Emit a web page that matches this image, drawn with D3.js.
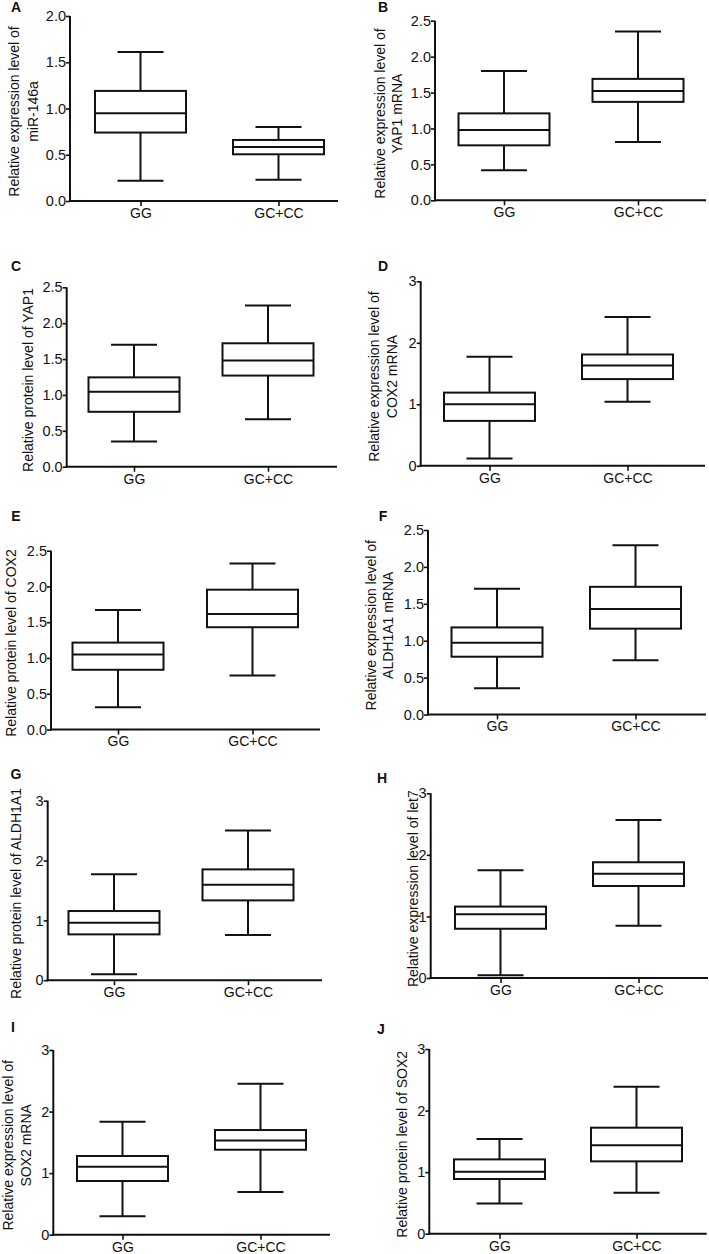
<!DOCTYPE html>
<html>
<head>
<meta charset="utf-8">
<script src="https://cdn.jsdelivr.net/npm/d3@7"></script>
<style>
  html, body { margin: 0; padding: 0; background: #fff; }
  svg { display: block; }
  text { font-family: "Liberation Sans", Arial, Helvetica, sans-serif; fill: #111; }
</style>
</head>
<body>
<svg id="chart" width="709" height="1254"></svg>
<script>
// ---------------- DATA ----------------
const panelLetters = ["A", "B", "C", "D", "E", "F", "G", "H", "I", "J"];
const categories = ["GG", "GC+CC"];
const yMaxValues = [2, 2.5, 2.5, 3, 2.5, 2.5, 3, 3, 3, 3];
const yTickSteps = [0.5, 0.5, 0.5, 1, 0.5, 0.5, 1, 1, 1, 1];
const yTitles = [
  ["Relative expression level of", "miR-146a"],
  ["Relative expression level of", "YAP1 mRNA"],
  ["Relative protein level of YAP1"],
  ["Relative expression level of", "COX2 mRNA"],
  ["Relative protein level of COX2"],
  ["Relative expression level of", "ALDH1A1 mRNA"],
  ["Relative protein level of ALDH1A1"],
  ["Relative expression level of let7"],
  ["Relative expression level of", "SOX2 mRNA"],
  ["Relative protein level of SOX2"]
];
// box stats: [min, Q1, median, Q3, max]
const ggStats = [
  [0.22, 0.74, 0.95, 1.19, 1.61],
  [0.42, 0.765, 0.98, 1.21, 1.80],
  [0.35, 0.765, 1.045, 1.245, 1.70],
  [0.12, 0.73, 1.00, 1.19, 1.775],
  [0.31, 0.835, 1.05, 1.215, 1.67],
  [0.355, 0.783, 0.973, 1.18, 1.705],
  [0.10, 0.766, 0.96, 1.156, 1.77],
  [0.045, 0.80, 1.035, 1.16, 1.75],
  [0.30, 0.872, 1.104, 1.278, 1.835],
  [0.49, 0.888, 1.007, 1.207, 1.538]
];
const gcStats = [
  [0.23, 0.505, 0.585, 0.66, 0.80],
  [0.81, 1.37, 1.52, 1.69, 2.35],
  [0.66, 1.27, 1.48, 1.72, 2.245],
  [1.04, 1.41, 1.63, 1.81, 2.42],
  [0.755, 1.43, 1.615, 1.955, 2.32],
  [0.735, 1.163, 1.43, 1.73, 2.295],
  [0.755, 1.334, 1.596, 1.852, 2.50],
  [0.85, 1.494, 1.695, 1.88, 2.565],
  [0.693, 1.38, 1.532, 1.70, 2.453],
  [0.666, 1.175, 1.435, 1.722, 2.388]
];

// ---------------- LAYOUT ----------------
const layout = [
  {ax0: 70,    ax1: 338,   yTop: 16,    y0: 201,    c0: 140.5, c1: 278.5, tb: [18.5, 38],   lx: 16,  ly: 7},
  {ax0: 435,   ax1: 706,   yTop: 20.7,  y0: 200.3,  c0: 504,   c1: 638,   tb: [384.7, 402.3], lx: 383, ly: 7},
  {ax0: 66.7,  ax1: 337,   yTop: 287.3, y0: 466.7,  c0: 134,   c1: 268,   tb: [33],         lx: 16,  ly: 266},
  {ax0: 420.7, ax1: 705,   yTop: 281.3, y0: 465.8,  c0: 489.5, c1: 627.5, tb: [379, 396.7], lx: 383, ly: 266},
  {ax0: 51,    ax1: 320,   yTop: 550.7, y0: 729.5,  c0: 118,   c1: 252.5, tb: [16],         lx: 16,  ly: 516},
  {ax0: 428,   ax1: 706,   yTop: 530,   y0: 714.5,  c0: 497,   c1: 635.5, tb: [376, 393],   lx: 383, ly: 516},
  {ax0: 47.7,  ax1: 322,   yTop: 800.7, y0: 980.2,  c0: 114,   c1: 248,   tb: [20.7],       lx: 16,  ly: 774},
  {ax0: 430.7, ax1: 708,   yTop: 793.3, y0: 978,    c0: 500.5, c1: 638.5, tb: [418],        lx: 382, ly: 778},
  {ax0: 53.3,  ax1: 330,   yTop: 1050,  y0: 1234.7, c0: 122.5, c1: 260.5, tb: [12.7, 30.7], lx: 13,  ly: 1027},
  {ax0: 429.3, ax1: 706.7, yTop: 1049,  y0: 1233.7, c0: 499.5, c1: 636.5, tb: [406.7],      lx: 381, ly: 1029}
];
const BOX_HALF = 45.5, CAP_HALF = 23, SW = 2;

const svg = d3.select("#chart");

panelLetters.forEach((letter, i) => {
  const L = layout[i];
  const g = svg.append("g");
  const y = d3.scaleLinear().domain([0, yMaxValues[i]]).range([L.y0, L.yTop]);
  const x = d3.scalePoint().domain(categories).range([L.c0, L.c1]);
  const ticks = d3.range(0, yMaxValues[i] + 1e-9, yTickSteps[i]);
  const fmt = yTickSteps[i] < 1 ? d3.format(".1f") : d3.format("d");

  // y axis
  const yAxis = g.append("g").attr("transform", `translate(${L.ax0},0)`)
    .call(d3.axisLeft(y).tickValues(ticks).tickFormat(fmt).tickSize(4).tickSizeOuter(0).tickPadding(0));
  yAxis.select(".domain").attr("stroke", "#111").attr("stroke-width", SW)
    .attr("d", `M0,${L.y0 + 1}V${L.yTop}`);
  yAxis.selectAll(".tick line").attr("stroke", "#111").attr("stroke-width", 1.6);
  yAxis.selectAll(".tick text").style("font-size", "14.5px").attr("fill", "#111");

  // x axis
  const xAxis = g.append("g").attr("transform", `translate(0,${L.y0})`)
    .call(d3.axisBottom(x).tickSize(5).tickSizeOuter(0).tickPadding(2));
  xAxis.select(".domain").attr("stroke", "#111").attr("stroke-width", SW)
    .attr("d", `M${L.ax0 - 1},0H${L.ax1}`);
  xAxis.selectAll(".tick line").attr("stroke", "#111").attr("stroke-width", 1.6);
  xAxis.selectAll(".tick text").style("font-size", "14px").attr("fill", "#111");

  // boxes
  const stats = [ggStats[i], gcStats[i]];
  categories.forEach((c, k) => {
    const [mn, q1, md, q3, mx] = stats[k];
    const cx = x(c);
    const bg = g.append("g").attr("fill", "none").attr("stroke", "#111").attr("stroke-width", SW);
    bg.append("line").attr("x1", cx).attr("x2", cx).attr("y1", y(mx)).attr("y2", y(q3));
    bg.append("line").attr("x1", cx).attr("x2", cx).attr("y1", y(q1)).attr("y2", y(mn));
    bg.append("line").attr("x1", cx - CAP_HALF).attr("x2", cx + CAP_HALF).attr("y1", y(mx)).attr("y2", y(mx));
    bg.append("line").attr("x1", cx - CAP_HALF).attr("x2", cx + CAP_HALF).attr("y1", y(mn)).attr("y2", y(mn));
    bg.append("rect").attr("x", cx - BOX_HALF).attr("width", 2 * BOX_HALF)
      .attr("y", y(q3)).attr("height", y(q1) - y(q3)).attr("fill", "#fff");
    bg.append("line").attr("x1", cx - BOX_HALF).attr("x2", cx + BOX_HALF).attr("y1", y(md)).attr("y2", y(md));
  });

  // y title
  const cy = (L.y0 + L.yTop) / 2 + 3;
  yTitles[i].forEach((t, j) => {
    g.append("text")
      .attr("transform", `translate(${L.tb[j]},${cy}) rotate(-90)`)
      .attr("text-anchor", "middle")
      .style("font-size", "14px")
      .text(t);
  });

  // panel letter
  g.append("text").attr("x", L.lx).attr("y", L.ly)
    .attr("text-anchor", "middle").attr("dy", "0.36em")
    .style("font-size", "14px").style("font-weight", "bold")
    .text(letter);
});
</script>
</body>
</html>
